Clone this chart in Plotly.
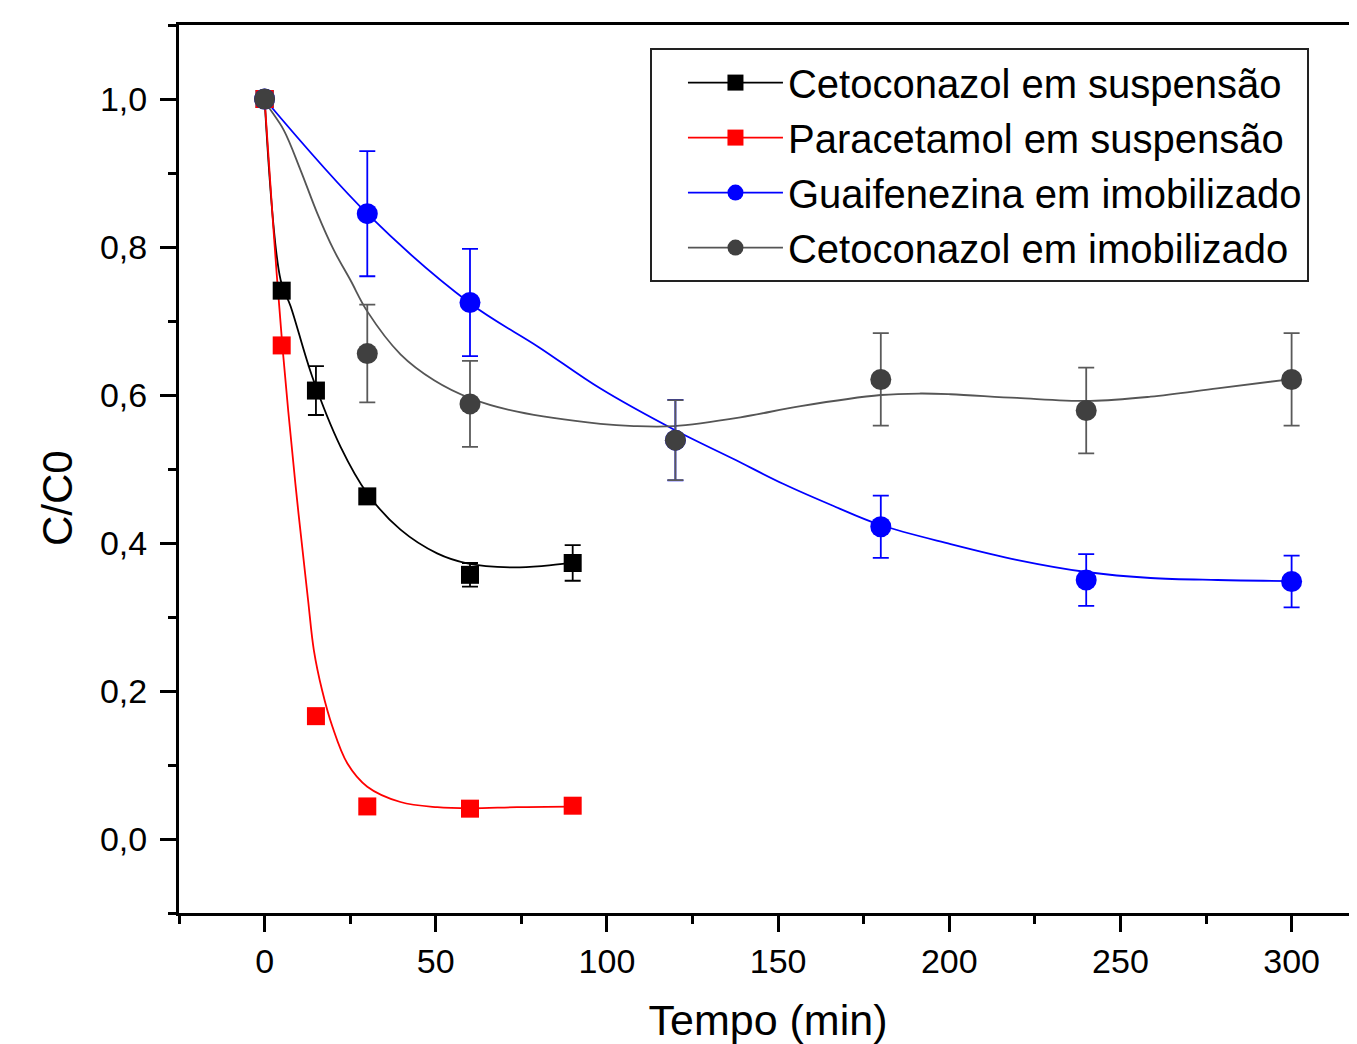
import plotly.graph_objects as go

# ---------------- data ----------------
time_susp = [0, 5, 15, 30, 60, 90]
ceto_susp = [1.0, 0.741, 0.606, 0.463, 0.357, 0.373]
ceto_susp_err = [0.0, 0.008, 0.033, 0.006, 0.016, 0.024]

para_susp = [1.0, 0.667, 0.166, 0.044, 0.041, 0.045]

time_imob = [0, 30, 60, 120, 180, 240, 300]
guai_imob = [1.0, 0.845, 0.725, 0.539, 0.422, 0.350, 0.348]
guai_imob_err = [0.0, 0.0845, 0.0725, 0.0545, 0.042, 0.035, 0.035]

ceto_imob = [1.0, 0.656, 0.588, 0.539, 0.621, 0.579, 0.621]
ceto_imob_err = [0.0, 0.066, 0.058, 0.054, 0.0625, 0.058, 0.0625]

# smooth fit curves
ceto_susp_fit_x = [0, 4.7, 7.6, 13.9, 22.2, 30, 39.7, 50.4, 59.2, 71.9, 81.6, 89.4]
ceto_susp_fit_y = [1.0, 0.755, 0.72, 0.625, 0.53, 0.467, 0.418, 0.386, 0.3725, 0.367, 0.369, 0.373]

para_susp_fit_x = [0, 2.5, 5.2, 9, 12.7, 14.4, 16.8, 19.8, 24.2, 30, 39.7, 50.4, 60.2, 73.8, 89.4]
para_susp_fit_y = [1.0, 0.83, 0.666, 0.48, 0.323, 0.255, 0.201, 0.152, 0.102, 0.0707, 0.050, 0.043, 0.0415, 0.043, 0.0437]

guai_imob_fit_x = [0, 30, 60, 80, 98, 119.8, 137, 151.6, 166.2, 179.9, 200.4, 220, 240.1, 258.8, 278.4, 299.7]
guai_imob_fit_y = [1.0, 0.845, 0.724, 0.665, 0.609, 0.5527, 0.5135, 0.4797, 0.450, 0.4243,
                   0.3986, 0.377, 0.3608, 0.3527, 0.350, 0.3486]

ceto_imob_fit_x = [0, 0.8, 5.6, 10.5, 15.4, 20.2, 25.1, 30, 39.7, 49.5, 60.2, 73.8, 98.1, 107.9, 119.6, 139,
                   156.6, 180, 191.6, 200.4, 219.8, 241.3, 258.8, 278.3, 300]
ceto_imob_fit_y = [1.0, 0.992, 0.958, 0.904, 0.8455, 0.796, 0.755, 0.713, 0.655, 0.62, 0.5955, 0.5774, 0.561,
                   0.558, 0.558, 0.5698, 0.585, 0.600, 0.602, 0.601, 0.596, 0.592, 0.5977, 0.609, 0.6216]

labels = ["Cetoconazol em suspensão", "Paracetamol em suspensão",
          "Guaifenezina em imobilizado", "Cetoconazol em imobilizado"]

x_ticks = [0, 50, 100, 150, 200, 250, 300]
y_ticks = [0.0, 0.2, 0.4, 0.6, 0.8, 1.0]

# ---------------- styles ----------------
BLACK = "#000000"
RED = "#FF0000"
BLUE = "#0000FF"
GRAY_M = "#404040"
GRAY_L = "#555555"
FONT = "Liberation Sans, Arial, sans-serif"

fig = go.Figure()

# fit curves
for fx, fy, col in [
    (ceto_susp_fit_x, ceto_susp_fit_y, BLACK),
    (para_susp_fit_x, para_susp_fit_y, RED),
    (guai_imob_fit_x, guai_imob_fit_y, BLUE),
    (ceto_imob_fit_x, ceto_imob_fit_y, GRAY_L),
]:
    fig.add_trace(go.Scatter(x=fx, y=fy, mode="lines", showlegend=False, hoverinfo="skip",
                             line=dict(color=col, width=1.8, shape="spline", smoothing=1.0)))

# data markers
fig.add_trace(go.Scatter(x=time_susp, y=ceto_susp, mode="markers", showlegend=False,
                         marker=dict(symbol="square", size=18, color=BLACK),
                         error_y=dict(type="data", array=ceto_susp_err, color=BLACK, thickness=1.8, width=8)))
fig.add_trace(go.Scatter(x=time_susp, y=para_susp, mode="markers", showlegend=False,
                         marker=dict(symbol="square", size=18, color=RED)))
fig.add_trace(go.Scatter(x=time_imob, y=guai_imob, mode="markers", showlegend=False,
                         marker=dict(symbol="circle", size=21, color=BLUE),
                         error_y=dict(type="data", array=guai_imob_err, color=BLUE, thickness=1.8, width=8)))
fig.add_trace(go.Scatter(x=time_imob, y=ceto_imob, mode="markers", showlegend=False,
                         marker=dict(symbol="circle", size=21, color=GRAY_M),
                         error_y=dict(type="data", array=ceto_imob_err, color="#5a5a5a", thickness=1.8, width=8)))

# legend entries
for lab, col, mcol, sym in [
    (labels[0], BLACK, BLACK, "square"),
    (labels[1], RED, RED, "square"),
    (labels[2], BLUE, BLUE, "circle"),
    (labels[3], GRAY_L, GRAY_M, "circle"),
]:
    fig.add_trace(go.Scatter(x=[None], y=[None], mode="lines+markers", name=lab,
                             line=dict(color=col, width=1.8),
                             marker=dict(symbol=sym, size=18 if sym == "square" else 21, color=mcol)))

fig.update_layout(
    width=1349, height=1036,
    margin=dict(l=171, r=0, t=17, b=131),
    paper_bgcolor="white", plot_bgcolor="white",
    separators=",.",
    font=dict(family=FONT, color="black", size=34),
    legend=dict(
        x=0.3998, y=0.974, xanchor="left", yanchor="top",
        bgcolor="white", bordercolor="#222222", borderwidth=2,
        font=dict(family=FONT, size=40, color="black"),
        itemwidth=95, indentation=31, tracegroupgap=0,
    ),
    showlegend=True,
    annotations=[dict(
        text="C/C0", xref="paper", yref="paper", x=-0.1036, y=0.4673,
        xanchor="center", yanchor="middle", textangle=-90, showarrow=False,
        font=dict(family=FONT, size=42, color="black"),
    )],
)

fig.update_xaxes(
    range=[-25, 319.1], tickmode="array", tickvals=x_ticks,
    ticks="outside", ticklen=16, tickwidth=3, tickcolor="black",
    minor=dict(dtick=25, tick0=0, ticks="outside", ticklen=8, tickwidth=3, tickcolor="black"),
    showline=True, linewidth=3, linecolor="black", mirror=True,
    showgrid=False, zeroline=False,
    tickfont=dict(family=FONT, size=34, color="black"),
    title=dict(text="Tempo (min)", font=dict(family=FONT, size=43, color="black"), standoff=28),
)
fig.update_yaxes(
    range=[-0.1, 1.1], tickmode="array", tickvals=y_ticks, tickformat=".1f",
    ticks="outside", ticklen=16, tickwidth=3, tickcolor="black",
    minor=dict(dtick=0.1, tick0=0, ticks="outside", ticklen=8, tickwidth=3, tickcolor="black"),
    showline=True, linewidth=3, linecolor="black", mirror=False,
    showgrid=False, zeroline=False, ticklabelstandoff=6,
    tickfont=dict(family=FONT, size=34, color="black"),
)

fig.write_html("out.html")
